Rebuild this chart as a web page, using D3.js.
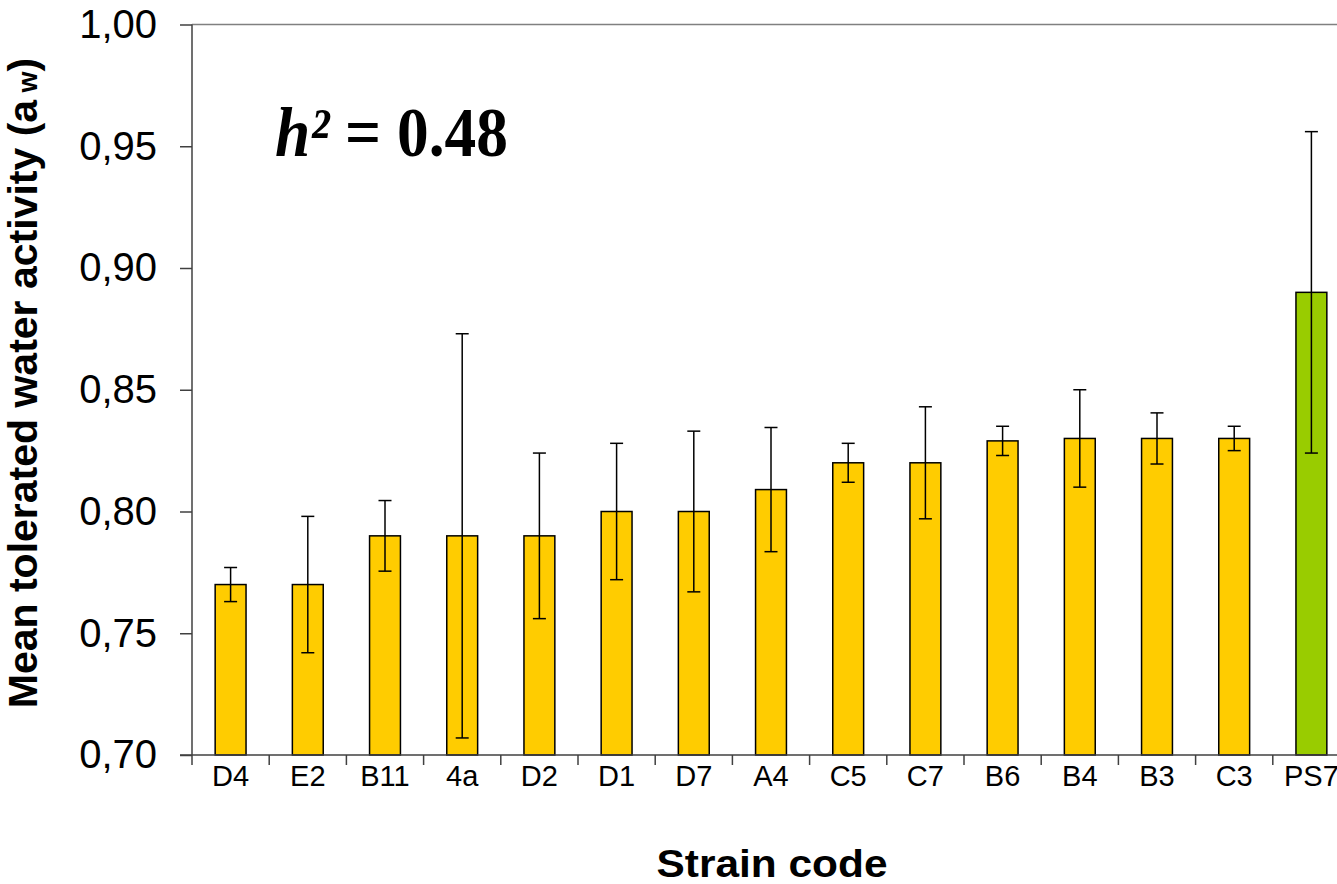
<!DOCTYPE html>
<html>
<head>
<meta charset="utf-8">
<script src="https://cdn.jsdelivr.net/npm/d3@7"></script>
<style>
  body { margin: 0; background: #fff; }
  svg { display: block; }
</style>
</head>
<body>
<div id="chart"></div>
<script>
const W = 1337, H = 884;
const margin = { top: 24.5, left: 192 };
const plotW = 1158, plotH = 730.5;

// strain codes and mean tolerated a_w with error
const strains = ["D4", "E2", "B11", "4a", "D2", "D1", "D7", "A4", "C5", "C7", "B6", "B4", "B3", "C3", "PS7"];
const means = [0.770, 0.770, 0.790, 0.790, 0.790, 0.800, 0.800, 0.809, 0.820, 0.820, 0.829, 0.830, 0.830, 0.830, 0.890];
const errors = [0.007, 0.028, 0.0145, 0.083, 0.034, 0.028, 0.033, 0.0255, 0.008, 0.023, 0.006, 0.020, 0.0105, 0.005, 0.066];
const yTicks = [0.70, 0.75, 0.80, 0.85, 0.90, 0.95, 1.00];

const data = strains.map((s, i) => ({ strain: s, mean: means[i], err: errors[i] }));

const svg = d3.select("#chart").append("svg")
  .attr("width", W)
  .attr("height", H);

const x = d3.scaleBand()
  .domain(strains)
  .range([margin.left, margin.left + plotW])
  .paddingInner(0.6)
  .paddingOuter(0.3);

const y = d3.scaleLinear()
  .domain([0.70, 1.00])
  .range([margin.top + plotH, margin.top]);

// top line at 1,00
svg.append("line")
  .attr("x1", margin.left).attr("x2", margin.left + plotW)
  .attr("y1", y(1.00)).attr("y2", y(1.00))
  .attr("stroke", "#808080")
  .attr("stroke-width", 1.5);

// bars
svg.selectAll("rect.bar")
  .data(data)
  .join("rect")
  .attr("class", "bar")
  .attr("x", d => x(d.strain))
  .attr("y", d => y(d.mean))
  .attr("width", x.bandwidth())
  .attr("height", d => y(0.70) - y(d.mean))
  .attr("fill", d => d.strain === "PS7" ? "#99cc00" : "#ffcc00")
  .attr("stroke", "#000")
  .attr("stroke-width", 1.5);

// error bars
const cap = 6.5;
const eb = svg.selectAll("g.err")
  .data(data)
  .join("g")
  .attr("class", "err")
  .attr("stroke", "#000")
  .attr("stroke-width", 1.5);

eb.append("line")
  .attr("x1", d => x(d.strain) + x.bandwidth() / 2)
  .attr("x2", d => x(d.strain) + x.bandwidth() / 2)
  .attr("y1", d => y(d.mean + d.err))
  .attr("y2", d => y(d.mean - d.err));

eb.append("line")
  .attr("x1", d => x(d.strain) + x.bandwidth() / 2 - cap)
  .attr("x2", d => x(d.strain) + x.bandwidth() / 2 + cap)
  .attr("y1", d => y(d.mean + d.err))
  .attr("y2", d => y(d.mean + d.err));

eb.append("line")
  .attr("x1", d => x(d.strain) + x.bandwidth() / 2 - cap)
  .attr("x2", d => x(d.strain) + x.bandwidth() / 2 + cap)
  .attr("y1", d => y(d.mean - d.err))
  .attr("y2", d => y(d.mean - d.err));

// y axis
const yAxis = svg.append("g")
  .attr("transform", `translate(${margin.left},0)`)
  .call(d3.axisLeft(y)
    .tickValues(yTicks)
    .tickSize(12)
    .tickPadding(23)
    .tickFormat(d => d.toFixed(2).replace(".", ",")));

yAxis.select(".domain").attr("stroke", "#404040").attr("stroke-width", 1.5)
  .attr("d", `M0,${y(1.00)}V${y(0.70)}`);
yAxis.selectAll(".tick line").attr("stroke", "#404040").attr("stroke-width", 1.5);
yAxis.selectAll(".tick text")
  .attr("font-family", "Liberation Sans, Arial, sans-serif")
  .attr("font-size", 40)
  .attr("fill", "#000");

// x axis: line + ticks at category boundaries
const xAxis = svg.append("g");
xAxis.append("line")
  .attr("x1", margin.left - 12).attr("x2", margin.left + plotW)
  .attr("y1", y(0.70)).attr("y2", y(0.70))
  .attr("stroke", "#404040").attr("stroke-width", 1.5);

xAxis.selectAll("line.tk")
  .data(d3.range(strains.length + 1))
  .join("line")
  .attr("class", "tk")
  .attr("x1", i => margin.left + i * x.step())
  .attr("x2", i => margin.left + i * x.step())
  .attr("y1", y(0.70))
  .attr("y2", y(0.70) + 10)
  .attr("stroke", "#404040").attr("stroke-width", 1.5);

xAxis.selectAll("text")
  .data(strains)
  .join("text")
  .attr("x", d => x(d) + x.bandwidth() / 2)
  .attr("y", 786)
  .attr("text-anchor", "middle")
  .attr("font-family", "Liberation Sans, Arial, sans-serif")
  .attr("font-size", 29)
  .text(d => d);

// axis titles
svg.append("text")
  .attr("x", 772)
  .attr("y", 877)
  .attr("text-anchor", "middle")
  .attr("font-family", "Liberation Sans, Arial, sans-serif")
  .attr("font-weight", "bold")
  .attr("font-size", 38)
  .attr("textLength", 231)
  .attr("lengthAdjust", "spacingAndGlyphs")
  .text("Strain code");

const yl = svg.append("text")
  .attr("transform", "translate(37,383) rotate(-90)")
  .attr("text-anchor", "middle")
  .attr("font-family", "Liberation Sans, Arial, sans-serif")
  .attr("font-weight", "bold")
  .attr("font-size", 41);
yl.append("tspan").text("Mean tolerated water activity (a");
yl.append("tspan").attr("font-size", 27).text(" w");
yl.append("tspan").text(")");

// heritability annotation
const h2 = svg.append("text")
  .attr("x", 275)
  .attr("y", 156)
  .attr("font-family", "Liberation Serif, Times New Roman, serif")
  .attr("font-weight", "bold")
  .attr("font-size", 70)
  .attr("textLength", 233)
  .attr("lengthAdjust", "spacingAndGlyphs");
h2.append("tspan").attr("font-style", "italic").text("h²");
h2.append("tspan").text(" = 0.48");
</script>
</body>
</html>
